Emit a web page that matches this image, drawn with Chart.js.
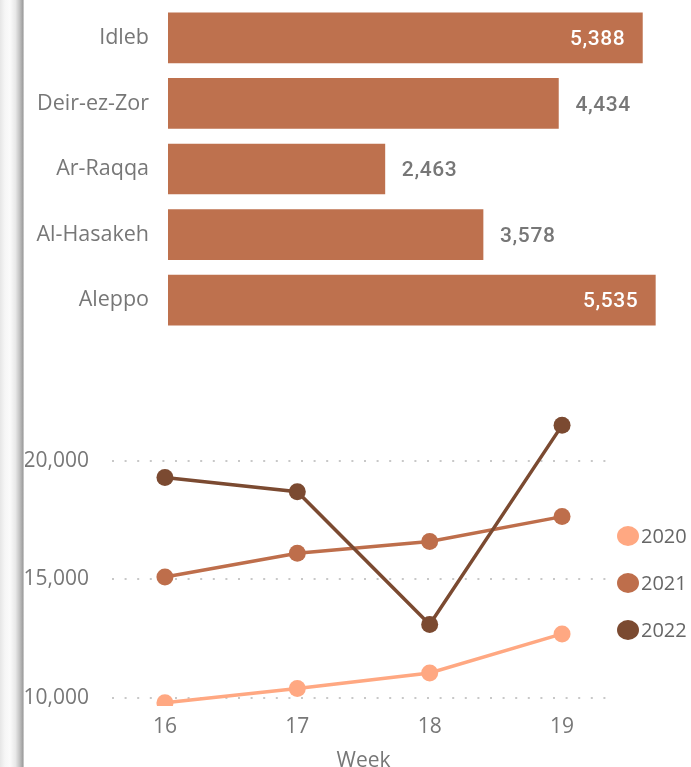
<!DOCTYPE html>
<html>
<head>
<meta charset="utf-8">
<script src="https://cdn.jsdelivr.net/npm/chart.js@4/dist/chart.umd.min.js"></script>
<style>
  html, body { margin: 0; padding: 0; background: #fff; overflow: hidden; }
  body { width: 691px; height: 767px; position: relative; }
  .edge {
    position: absolute; left: 0; top: 0; width: 25px; height: 767px;
    background: linear-gradient(to right, #e6e6e6 0%, #f6f6f6 20%, #fbfbfb 40%, #e8e8e8 62%, #c4c4c4 78%, #9c9c9c 92%, #ffffff 97%);
  }
  #bars { position: absolute; left: 25px; top: 0; }
  #lines { position: absolute; left: 25px; top: 382px; }
</style>
</head>
<body>
<div class="edge"></div>
<canvas id="bars" width="666" height="340"></canvas>
<canvas id="lines" width="666" height="400"></canvas>
<script>
// governorates
const regions = ['Idleb', 'Deir-ez-Zor', 'Ar-Raqqa', 'Al-Hasakeh', 'Aleppo'];
const regionValues = [5388, 4434, 2463, 3578, 5535];

// weekly totals
const weeks = [16, 17, 18, 19];
const years = ['2020', '2021', '2022'];
const values2020 = [9800, 10400, 11050, 12700];
const values2021 = [15100, 16100, 16600, 17650];
const values2022 = [19300, 18700, 13100, 21500];
const yTicks = [10000, 15000, 20000];

const barColor = '#BE714E';
const yearColors = ['#FFA882', '#BE6E4B', '#7B4A31'];
const greyText = '#777777';
const fmt = v => v.toLocaleString('en-US');

// value labels: outside the bar if there is room, else inside in white
const barLabels = {
  id: 'barLabels',
  afterDatasetsDraw(chart) {
    const {ctx, chartArea} = chart;
    const meta = chart.getDatasetMeta(0);
    ctx.save();
    ctx.font = '500 21px Roboto';
    ctx.letterSpacing = '0.6px';
    ctx.textBaseline = 'middle';
    meta.data.forEach((bar, i) => {
      const txt = fmt(regionValues[i]);
      const w = ctx.measureText(txt).width;
      if (bar.x + 17 + w > chartArea.right) {
        ctx.fillStyle = '#ffffff';
        ctx.textAlign = 'right';
        ctx.fillText(txt, bar.x - 17, bar.y + 2);
      } else {
        ctx.fillStyle = greyText;
        ctx.textAlign = 'left';
        ctx.fillText(txt, bar.x + 17, bar.y + 2);
      }
    });
    ctx.restore();
  }
};

new Chart(document.getElementById('bars'), {
  type: 'bar',
  data: {
    labels: regions,
    datasets: [{
      data: regionValues,
      backgroundColor: barColor,
      barThickness: 50
    }]
  },
  options: {
    indexAxis: 'y',
    responsive: false,
    animation: false,
    layout: { padding: { top: 5, bottom: 7, right: 0 } },
    plugins: { legend: { display: false }, tooltip: { enabled: false } },
    scales: {
      x: { display: false, min: 0, max: 5940 },
      y: {
        grid: { display: false, drawTicks: false },
        border: { display: false },
        ticks: { color: greyText, padding: 19, font: { family: 'Open Sans', size: 21.5 } },
        afterFit: scale => {
          scale.width = 143;
          scale.paddingTop = 0;
          scale.paddingBottom = 0;
        }
      }
    }
  },
  plugins: [barLabels]
});

// legend at the right of the line chart
const sideLegend = {
  id: 'sideLegend',
  afterDraw(chart) {
    const {ctx} = chart;
    ctx.save();
    ctx.font = '20px "Open Sans"';
    ctx.textBaseline = 'middle';
    ctx.textAlign = 'left';
    chart.data.datasets.forEach((ds, i) => {
      const y = 154 + i * 47;
      ctx.fillStyle = ds.borderColor;
      ctx.beginPath();
      ctx.ellipse(603, y, 11, 10, 0, 0, Math.PI * 2);
      ctx.fill();
      ctx.fillStyle = '#666666';
      ctx.fillText(ds.label, 616, y + 1);
    });
    ctx.restore();
  }
};

const series = [values2020, values2021, values2022];

new Chart(document.getElementById('lines'), {
  type: 'line',
  data: {
    datasets: years.map((yr, i) => ({
      label: yr,
      data: weeks.map((w, j) => ({ x: w, y: series[i][j] })),
      borderColor: yearColors[i],
      backgroundColor: yearColors[i],
      borderWidth: 3.5,
      pointRadius: 8.5,
      pointBorderWidth: 0,
      tension: 0,
      order: 2 - i
    }))
  },
  options: {
    responsive: false,
    animation: false,
    layout: { padding: { top: 31.5, right: 76, left: 0, bottom: 0 } },
    plugins: { legend: { display: false }, tooltip: { enabled: false } },
    scales: {
      x: {
        type: 'linear',
        min: 15.6,
        max: 19.4,
        grid: { display: false, drawTicks: false },
        border: { display: false },
        afterBuildTicks: scale => { scale.ticks = weeks.map(v => ({ value: v })); },
        ticks: { color: greyText, padding: 8, font: { family: 'Open Sans', size: 21 } },
        title: {
          display: true, text: 'Week', color: greyText,
          font: { family: 'Open Sans', size: 21 },
          padding: { top: 0, bottom: 8 }
        },
        afterFit: scale => {
          scale.height = 76;
          scale.paddingLeft = 0;
          scale.paddingRight = 0;
        }
      },
      y: {
        min: 9660,
        max: 22000,
        grid: { color: '#c8c8c8', lineWidth: 2, drawTicks: false },
        border: { display: false, dash: [2, 10.6] },
        afterBuildTicks: scale => { scale.ticks = yTicks.map(v => ({ value: v })); },
        ticks: {
          color: greyText, padding: 23,
          font: { family: 'Open Sans', size: 21 },
          callback: v => fmt(v)
        },
        afterFit: scale => {
          scale.width = 87;
          scale.paddingTop = 0;
          scale.paddingBottom = 0;
        }
      }
    }
  },
  plugins: [sideLegend]
});
</script>
</body>
</html>
